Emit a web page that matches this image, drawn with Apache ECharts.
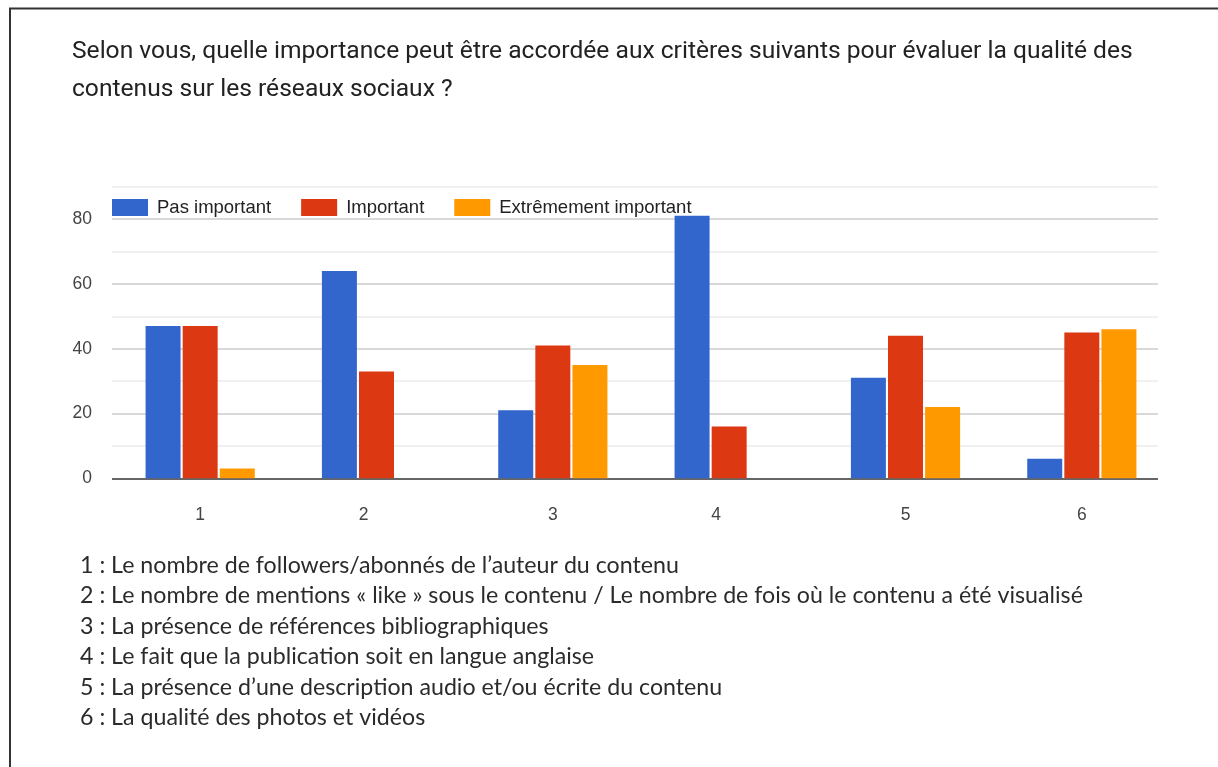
<!DOCTYPE html>
<html>
<head>
<meta charset="utf-8">
<script src="https://cdn.jsdelivr.net/npm/echarts@6/dist/echarts.min.js"></script>
<style>
  html, body { margin: 0; padding: 0; background: #fff; }
  #chart { width: 1218px; height: 767px; }
</style>
</head>
<body>
<div id="chart"></div>
<script>
// data
const categories = ['1', '2', '3', '4', '5', '6']
const seriesNames = ['Pas important', 'Important', 'Extrêmement important']
const pasImportant = [47, 64, 21, 81, 31, 6]
const important = [47, 33, 41, 16, 44, 45]
const extremementImportant = [3, 0, 35, 0, 22, 46]
const yTicks = [0, 20, 40, 60, 80]
const notes = [
  '1 : Le nombre de followers/abonnés de l’auteur du contenu',
  '2 : Le nombre de mentions « like » sous le contenu / Le nombre de fois où le contenu a été visualisé',
  '3 : La présence de références bibliographiques',
  '4 : Le fait que la publication soit en langue anglaise',
  '5 : La présence d’une description audio et/ou écrite du contenu',
  '6 : La qualité des photos et vidéos'
]
const titleText = 'Selon vous, quelle importance peut être accordée aux critères suivants pour évaluer la qualité des\ncontenus sur les réseaux sociaux ?'

const colors = ['#3366cc', '#dc3912', '#ff9900']
const values = [pasImportant, important, extremementImportant]

// gridline colours: 0 is the dark baseline, majors every 20, minors between
const gridColors = [0, 10, 20, 30, 40, 50, 60, 70, 80, 90].map(v =>
  v === 0 ? '#333333' : (v % 20 === 0 ? '#cccccc' : '#ebebeb'))

const chart = echarts.init(document.getElementById('chart'))

chart.setOption({
  animation: false,
  color: colors,
  title: {
    text: titleText,
    left: 72,
    top: 33,
    padding: 0,
    textStyle: {
      fontFamily: 'Roboto',
      fontSize: 24.6,
      fontWeight: 'normal',
      color: '#222222',
      lineHeight: 38
    }
  },
  legend: {
    data: seriesNames,
    left: 112,
    top: 198,
    padding: 0,
    itemWidth: 36,
    itemHeight: 17,
    itemGap: 30,
    icon: 'rect',
    textStyle: {
      fontFamily: 'Liberation Sans',
      fontSize: 18.5,
      color: '#222222',
      padding: [0, 0, 0, 4]
    }
  },
  grid: [
    // bars
    { left: 112, right: 48, top: 186.7, bottom: 288.7 },
    // gridlines only
    { left: 112, right: 60, top: 186.7, bottom: 288.7 }
  ],
  xAxis: [
    {
      type: 'category',
      gridIndex: 0,
      data: categories,
      axisLine: { show: false },
      axisTick: { show: false },
      axisLabel: {
        margin: 28,
        fontFamily: 'Liberation Sans',
        fontSize: 17.5,
        color: '#444444',
        // label sits under the bars that are drawn, so nudge it left when the last bar is empty
        formatter: (v, i) => (extremementImportant[i] ? v : '{s|' + v + '}'),
        rich: {
          s: {
            fontFamily: 'Liberation Sans',
            fontSize: 17.5,
            color: '#444444',
            padding: [0, 26, 0, 0]
          }
        }
      }
    },
    {
      type: 'value',
      gridIndex: 1,
      show: false
    }
  ],
  yAxis: [
    {
      type: 'value',
      gridIndex: 0,
      min: 0,
      max: 90,
      interval: 10,
      axisLine: { show: false },
      axisTick: { show: false },
      splitLine: { show: false },
      axisLabel: {
        margin: 20,
        fontFamily: 'Liberation Sans',
        fontSize: 17.5,
        color: '#444444',
        formatter: v => (yTicks.indexOf(v) >= 0 ? String(v) : '')
      }
    },
    {
      type: 'value',
      gridIndex: 1,
      min: 0,
      max: 90,
      interval: 10,
      axisLine: { show: false },
      axisTick: { show: false },
      axisLabel: { show: false },
      splitLine: {
        show: true,
        lineStyle: { color: gridColors, width: 1.5 }
      }
    }
  ],
  series: seriesNames.map((name, i) => ({
    name: name,
    type: 'bar',
    xAxisIndex: 0,
    yAxisIndex: 0,
    barWidth: 35,
    barGap: '6%',
    z: 3,
    itemStyle: { color: colors[i] },
    data: values[i]
  })),
  graphic: [
    {
      type: 'polyline',
      shape: { points: [[10, 767], [10, 8.5], [1218, 8.5]] },
      style: { stroke: '#333333', lineWidth: 2, fill: null }
    },
    {
      type: 'text',
      left: 80,
      top: 550,
      style: {
        text: notes.join('\n'),
        fontFamily: 'Lato',
        fontSize: 23.2,
        lineHeight: 30.5,
        fill: '#2b2b2b'
      }
    }
  ]
})
</script>
</body>
</html>
